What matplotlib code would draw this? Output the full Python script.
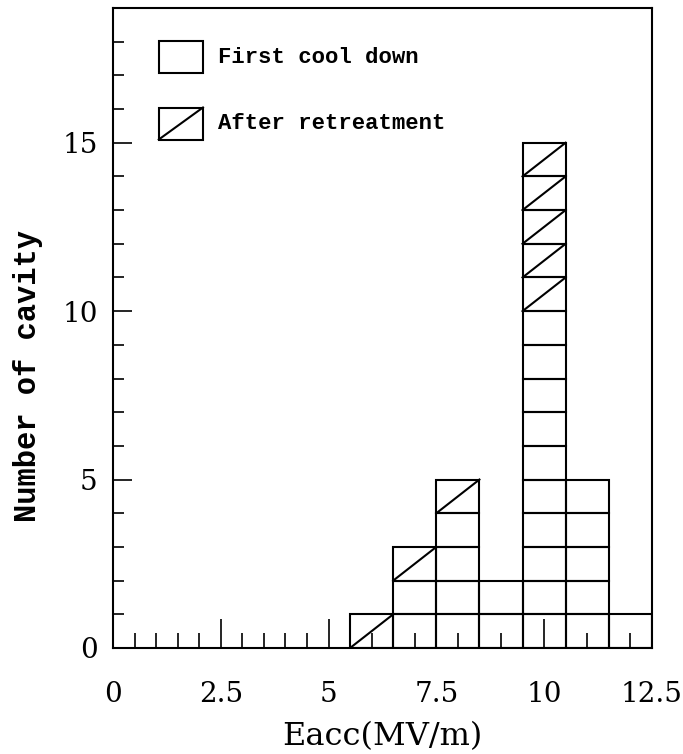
import matplotlib.pyplot as plt
import numpy as np
from matplotlib.patches import Rectangle
from matplotlib.lines import Line2D

# Eacc bins (MV/m) and number of cavities per bin
bin_centers = [6, 7, 8, 9, 10, 11, 12]
first_cool_down = [0, 2, 4, 2, 10, 5, 1]
after_retreatment = [1, 1, 1, 0, 5, 0, 0]

x_ticks = [0, 2.5, 5, 7.5, 10, 12.5]
x_tick_labels = ["0", "2.5", "5", "7.5", "10", "12.5"]
y_ticks = [0, 5, 10, 15]

plt.rcParams["font.family"] = ["DejaVu Serif"]
mono = ["Liberation Mono", "DejaVu Sans Mono"]

fig = plt.figure(figsize=(6.83, 7.54), dpi=100)
ax = fig.add_axes([0.1654, 0.1406, 0.789, 0.8488])

bin_width = 1.0
lw = 1.5

for center, n_first, n_after in zip(bin_centers, first_cool_down, after_retreatment):
    left = center - bin_width / 2
    for level in range(n_first):
        ax.bar(center, 1, width=bin_width, bottom=level, fill=False,
               edgecolor="black", linewidth=lw)
    for level in range(n_first, n_first + n_after):
        ax.bar(center, 1, width=bin_width, bottom=level, fill=False,
               edgecolor="black", linewidth=lw)
        ax.plot([left, left + bin_width], [level, level + 1],
                color="black", linewidth=lw)

ax.set_xlim(0, 12.5)
ax.set_ylim(0, 19)
ax.set_xticks(x_ticks)
ax.set_xticklabels(x_tick_labels)
ax.set_xticks(np.arange(0, 12.5, 0.5), minor=True)
ax.set_yticks(y_ticks)
ax.set_yticks(np.arange(0, 19, 1), minor=True)

ax.tick_params(axis="x", which="major", direction="in", length=21, width=1.2,
               labelsize=20, pad=24, top=False)
ax.tick_params(axis="x", which="minor", direction="in", length=11, width=1.2,
               top=False)
ax.tick_params(axis="y", which="major", direction="in", length=14, width=1.2,
               labelsize=20, pad=11, right=False)
ax.tick_params(axis="y", which="minor", direction="in", length=8, width=1.2,
               right=False)

for spine in ax.spines.values():
    spine.set_linewidth(1.5)

ax.set_xlabel("Eacc(MV/m)", fontsize=23, labelpad=9)
ax.set_ylabel("Number of cavity", fontsize=22, family=mono, fontweight="bold")
ax.yaxis.set_label_coords(-0.13, 0.425)

# legend drawn as boxes with a diagonal, like the bars
box_x, box_w, box_h = 0.085, 0.082, 0.05
legend_rows = [("First cool down", 0.9227, False), ("After retreatment", 0.8195, True)]
for label, yc, hatched in legend_rows:
    ax.add_patch(Rectangle((box_x, yc - box_h / 2), box_w, box_h,
                           transform=ax.transAxes, fill=False,
                           edgecolor="black", linewidth=lw))
    if hatched:
        ax.add_line(Line2D([box_x, box_x + box_w], [yc - box_h / 2, yc + box_h / 2],
                           transform=ax.transAxes, color="black", linewidth=lw))
    ax.text(0.195, yc, label, transform=ax.transAxes, fontsize=16,
            family=mono, fontweight="bold", va="center", ha="left")

fig.savefig("out.png", dpi=100)
